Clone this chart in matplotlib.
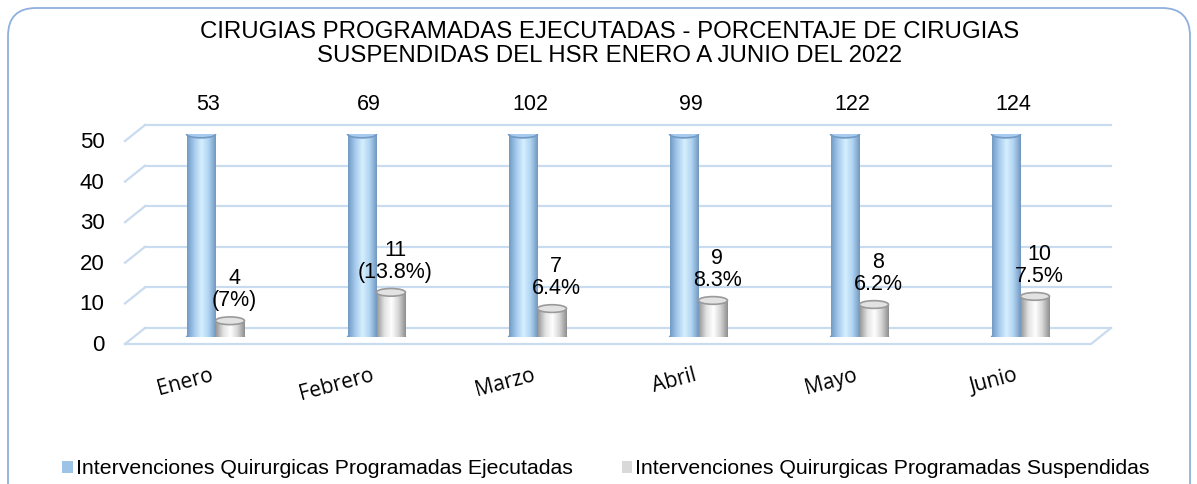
import numpy as np
import matplotlib
matplotlib.use("Agg")
import matplotlib.pyplot as plt
from matplotlib.patches import Ellipse, FancyBboxPatch, Patch
from matplotlib.lines import Line2D
from matplotlib.transforms import IdentityTransform

# ---- data ----
meses = ["Enero", "Febrero", "Marzo", "Abril", "Mayo", "Junio"]
ejecutadas = [53, 69, 102, 99, 122, 124]
suspendidas = [4, 11, 7, 9, 8, 10]
etiquetas_susp = ["4\n(7%)", "11\n(13.8%)", "7\n6.4%", "9\n8.3%", "8\n6.2%", "10\n7.5%"]
y_ticks = [0, 10, 20, 30, 40, 50]

titulo = ("CIRUGIAS PROGRAMADAS EJECUTADAS - PORCENTAJE DE CIRUGIAS\n"
          "SUSPENDIDAS DEL HSR ENERO A JUNIO DEL 2022")
serie1 = "Intervenciones Quirurgicas Programadas Ejecutadas"
serie2 = "Intervenciones Quirurgicas Programadas Suspendidas"

# ---- style ----
plt.rcParams["font.family"] = ["Liberation Sans", "DejaVu Sans"]
grid_col = "#c9dbef"
blue_grad = ["#729ac4", "#a6cbee", "#d6effd", "#b0d4f2", "#7398c0"]
gray_grad = ["#9a9a9a", "#e2e2e2", "#ffffff", "#d5d5d5", "#8f8f8f"]

W, H, DPI = 1197, 484, 100
fig = plt.figure(figsize=(W / DPI, H / DPI), dpi=DPI)
ax = fig.add_axes([135 / W, 147 / H, 966 / W, 203 / H])
ymax = 50
for s in ax.spines.values():
    s.set_visible(False)

x = np.arange(len(meses))
bw = 0.18


def cylinders(xpos, vals, colors):
    shown = np.minimum(vals, ymax)
    bars = ax.bar(xpos, shown, bw, color="none", zorder=3)
    grad = matplotlib.colors.LinearSegmentedColormap.from_list("g", colors)
    for b, v in zip(bars, shown):
        x0 = b.get_x()
        im = ax.imshow(np.linspace(0, 1, 64)[None, :], cmap=grad, aspect="auto",
                       extent=(x0, x0 + bw, 0, v), zorder=3)
        im.set_clip_path(b)
        cx = x0 + bw / 2
        ax.add_patch(Ellipse((cx, 0), bw, 1.6, color=colors[-1], zorder=2.9))
        ax.add_patch(Ellipse((cx, v), bw, 1.9, facecolor=colors[1],
                             edgecolor=colors[0], lw=1.2, zorder=4))
    return bars


cylinders(x - bw / 2, np.array(ejecutadas), blue_grad)
cylinders(x + bw / 2, np.array(suspendidas), gray_grad)
ax.set_xlim(-0.5, len(meses) - 0.5)
ax.set_ylim(0, ymax)

# value labels
for xi, v in zip(x, ejecutadas):
    ax.annotate(str(v), (xi - bw / 2, ymax), xytext=(5, 21), textcoords="offset points",
                ha="center", va="center", fontsize=15.5, clip_on=False)
for xi, v, t in zip(x, suspendidas, etiquetas_susp):
    ax.annotate(t, (xi + bw / 2, v), xytext=(3, 7), textcoords="offset points",
                ha="center", va="bottom", fontsize=15.5, linespacing=1.05)

# axis ticks
ax.set_yticks(y_ticks)
ax.set_yticklabels([str(t) for t in y_ticks], fontsize=16)
ax.tick_params(axis="y", length=0, pad=22)
off = matplotlib.transforms.ScaledTranslation(0, -6 / DPI, fig.dpi_scale_trans)
for lab in ax.get_yticklabels():
    lab.set_transform(lab.get_transform() + off)
ax.set_xticks(x)
ax.set_xticklabels(meses, rotation=15, ha="right", fontsize=15,
                   family=["Open Sans", "DejaVu Sans"])
ax.tick_params(axis="x", length=0, pad=20)

# pseudo-3D walls (decoration, drawn in pixels from the data transform)
fig.canvas.draw()
td = ax.transData
bdx, bdy = 10, 9      # back wall shift
fdx, fdy = -10, -7    # front edge shift
for v in y_ticks:
    (xl, yv), (xr, _) = td.transform([(-0.5, v), (len(meses) - 0.5, v)])
    fig.add_artist(Line2D([xl + bdx, xr + bdx], [yv + bdy, yv + bdy], color=grid_col,
                          lw=1.6, transform=IdentityTransform(), zorder=0.5))
    fig.add_artist(Line2D([xl + fdx, xl + bdx], [yv + fdy, yv + bdy], color=grid_col,
                          lw=1.6, transform=IdentityTransform(), zorder=0.5))
    if v == 0:
        fig.add_artist(Line2D([xl + fdx, xr + fdx, xr + bdx], [yv + fdy, yv + fdy, yv + bdy],
                              color=grid_col, lw=1.6, transform=IdentityTransform(), zorder=0.5))
ax.set_zorder(1)
ax.patch.set_alpha(0)

# title
fig.text(610 / W, 1 - 44 / H, titulo, ha="center", va="center", fontsize=17.3, linespacing=1.12)

# legend
handles = [Patch(facecolor="#9dc3e6", edgecolor="none"), Patch(facecolor="#d9d9d9", edgecolor="none")]
fig.legend(handles, [serie1, serie2], loc="center", bbox_to_anchor=(606 / W, 1 - 469 / H),
           ncol=2, frameon=False, fontsize=15.3, handlelength=0.5, handleheight=0.5,
           handletextpad=0.15, columnspacing=2.3)

# rounded border
fig.add_artist(FancyBboxPatch((8, -30), 1182, H - 8 + 30, boxstyle="round,pad=0,rounding_size=28",
                              facecolor="none", edgecolor="#8fb0dc", lw=1.3,
                              transform=IdentityTransform()))

fig.savefig("out.png", dpi=DPI)
